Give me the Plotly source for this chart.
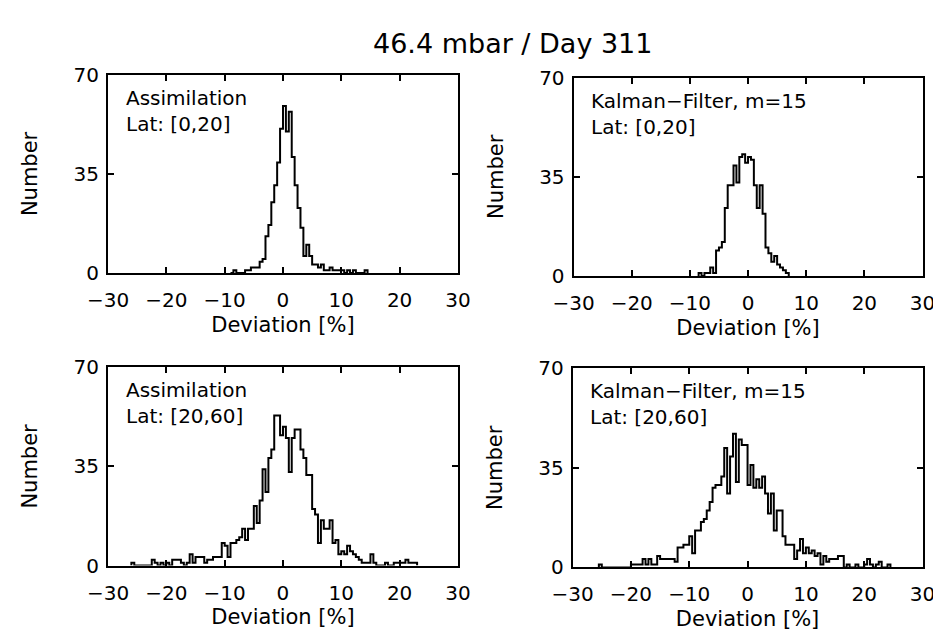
import numpy as np
import plotly.graph_objects as go

# histogram counts, 0.5 % bins
bin_width = 0.5

assim_0_20_start = -9.0
assim_0_20 = [0, 1, 0, 0, 0, 1, 1, 2, 2, 2, 4, 5, 13, 17, 25, 31, 39, 51, 59, 50,
              57, 41, 31, 23, 16, 6, 10, 6, 3, 3, 2, 3, 1, 1, 2, 1, 1, 1, 1, 0,
              1, 0, 1, 0, 0, 0, 1]

kalman_0_20_start = -8.5
kalman_0_20 = [1, 0, 1, 1, 3, 1, 9, 10, 12, 24, 32, 32, 39, 33, 42, 43, 40, 42, 41, 32,
               24, 32, 22, 10, 8, 5, 7, 4, 3, 2, 1]

assim_20_60_start = -26.0
assim_20_60 = [1, 0, 0, 0, 0, 0, 0, 2, 1, 0, 1, 0, 1, 0, 2, 2, 2, 1, 0, 1,
               4, 1, 3, 3, 3, 1, 2, 2, 3, 3, 3, 8, 7, 3, 8, 8, 9, 10, 13, 9,
               13, 13, 21, 15, 23, 34, 26, 38, 41, 53, 53, 46, 49, 45, 33, 45, 48, 48, 41, 38,
               32, 32, 20, 18, 8, 16, 13, 13, 16, 8, 9, 4, 5, 4, 7, 5, 4, 3, 2, 1,
               1, 1, 4, 1, 0, 0, 0, 1, 0, 0, 1, 1, 1, 1, 2, 1, 1, 1]

kalman_20_60_start = -25.5
kalman_20_60 = [1, 0, 0, 0, 0, 0, 0, 0, 0, 0, 0, 1, 1, 1, 1, 3, 1, 3, 1, 1,
                4, 3, 3, 3, 3, 3, 2, 7, 7, 8, 8, 11, 5, 13, 13, 16, 17, 20, 23, 28,
                29, 29, 32, 42, 26, 39, 47, 30, 45, 43, 43, 29, 36, 28, 31, 28, 32, 26, 19, 26,
                13, 20, 20, 11, 8, 8, 8, 3, 6, 10, 5, 7, 5, 6, 4, 5, 1, 4, 2, 3,
                3, 3, 4, 4, 0, 1, 0, 0, 1, 0, 0, 1, 3, 1, 0, 1, 2, 0, 0, 1]

labels = ["Assimilation<br>Lat: [0,20]",
          "Kalman−Filter, m=15<br>Lat: [0,20]",
          "Assimilation<br>Lat: [20,60]",
          "Kalman−Filter, m=15<br>Lat: [20,60]"]

x_ticks = [-30, -20, -10, 0, 10, 20, 30]
y_ticks = [0, 35, 70]

panels = [(assim_0_20_start, assim_0_20),
          (kalman_0_20_start, kalman_0_20),
          (assim_20_60_start, assim_20_60),
          (kalman_20_60_start, kalman_20_60)]

W, H = 941, 634
# plot boxes in pixels (left, right, top, bottom)
boxes = [(82, 445, 57, 263), (565, 927, 60, 266),
         (82, 445, 361, 567), (564, 927, 362, 569)]

font = "DejaVu Sans"


def steps(start, counts):
    edges = start + bin_width * np.arange(len(counts) + 1)
    x = np.concatenate([[edges[0]], edges])
    y = np.concatenate([[0], counts, [0]])
    return x, y


fig = go.Figure()

for i, ((start, counts), (l, r, t, b)) in enumerate(zip(panels, boxes), start=1):
    s = "" if i == 1 else str(i)
    x, y = steps(start, counts)
    fig.add_trace(go.Scatter(x=x, y=y, mode="lines", line_shape="hv",
                             line=dict(color="black", width=2),
                             xaxis="x" + s, yaxis="y" + s, showlegend=False,
                             hoverinfo="skip"))
    ax = dict(domain=[l / W, r / W], anchor="y" + s, range=[-30, 30],
              tickmode="array", tickvals=x_ticks, ticks="inside", ticklen=6,
              tickwidth=1.5, tickcolor="black", showline=True, linewidth=2,
              linecolor="black", mirror="ticks", showgrid=False, zeroline=False,
              tickfont=dict(family=font, size=20, color="black"),
              ticklabelstandoff=8,
              title=dict(text="Deviation [%]", standoff=6,
                         font=dict(family=font, size=21, color="black")))
    ay = dict(domain=[1 - b / H, 1 - t / H], anchor="x" + s, range=[0, 70],
              tickmode="array", tickvals=y_ticks, ticks="inside", ticklen=6,
              tickwidth=1.5, tickcolor="black", showline=True, linewidth=2,
              linecolor="black", mirror="ticks", showgrid=False, zeroline=False,
              tickfont=dict(family=font, size=20, color="black"),
              ticklabelstandoff=3,
              title=dict(text="Number", standoff=30,
                         font=dict(family=font, size=21, color="black")))
    fig.update_layout({"xaxis" + s: ax, "yaxis" + s: ay})
    fig.add_annotation(text=labels[i - 1], xref=f"x{s} domain", yref=f"y{s} domain",
                       x=0.045, y=0.955, xanchor="left", yanchor="top", align="left",
                       showarrow=False, font=dict(family=font, size=20, color="black"))

fig.add_annotation(text="46.4 mbar / Day 311", xref="paper", yref="paper",
                   x=502 / W, y=1 - 24 / H, xanchor="center", yanchor="middle",
                   showarrow=False, font=dict(family=font, size=27, color="black"))

fig.update_layout(width=W, height=H, margin=dict(l=0, r=0, t=0, b=0),
                  paper_bgcolor="white", plot_bgcolor="white")

fig.write_html("out.html")
